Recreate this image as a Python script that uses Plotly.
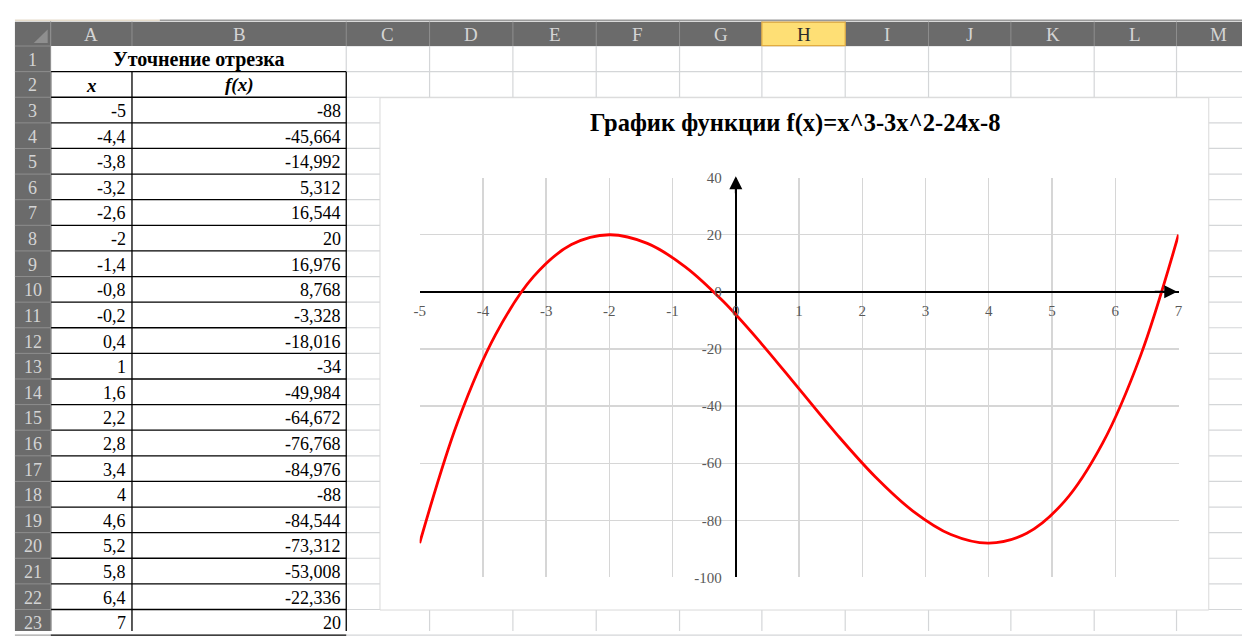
import plotly.graph_objects as go

W, H = 1246, 639

# ---------------- data ----------------
x_vals = [-5, -4.4, -3.8, -3.2, -2.6, -2, -1.4, -0.8, -0.2, 0.4, 1, 1.6,
          2.2, 2.8, 3.4, 4, 4.6, 5.2, 5.8, 6.4, 7]
fx_vals = [-88, -45.664, -14.992, 5.312, 16.544, 20, 16.976, 8.768, -3.328,
           -18.016, -34, -49.984, -64.672, -76.768, -84.976, -88, -84.544,
           -73.312, -53.008, -22.336, 20]
col_letters = ["A", "B", "C", "D", "E", "F", "G", "H", "I", "J", "K", "L", "M"]
row_numbers = list(range(1, 24))
x_ticks = list(range(-5, 8))
y_ticks = list(range(-100, 41, 20))
chart_title = "График функции f(x)=x^3-3x^2-24x-8"
table_title = "Уточнение отрезка"
head_x = "x"
head_fx = "f(x)"

# ---------------- layout geometry (pixels) ----------------
SERIF = "Liberation Serif, Times New Roman, serif"
col_edges = [45, 127, 343, 427, 511, 595, 679, 762, 846, 930, 1013, 1097, 1180, 1264]
ROW_TOP, ROW_H = 39, 26.27
HDR_TOP = 14
RH_LEFT = 9


def row_top(k):
    return ROW_TOP + (k - 1) * ROW_H


def X(p):
    return p / W


def Y(p):
    return 1 - p / H


shapes = []
ann = []


def line(x0, y0, x1, y1, color, width=1):
    shapes.append(dict(type="line", xref="paper", yref="paper", layer="below",
                       x0=X(x0), y0=Y(y0), x1=X(x1), y1=Y(y1),
                       line=dict(color=color, width=width)))


def rect(x0, y0, x1, y1, fill, lc=None, lw=0):
    shapes.append(dict(type="rect", xref="paper", yref="paper", layer="below",
                       x0=X(x0), y0=Y(y0), x1=X(x1), y1=Y(y1), fillcolor=fill,
                       line=dict(color=lc if lc else fill, width=lw)))


def text(x, y, s, size, color="#000000", xanchor="center", bold=False, italic=False):
    if bold:
        s = "<b>" + s + "</b>"
    if italic:
        s = "<i>" + s + "</i>"
    ann.append(dict(xref="paper", yref="paper", x=X(x), y=Y(y), text=s,
                    showarrow=False, xanchor=xanchor, yanchor="middle",
                    font=dict(family=SERIF, size=size, color=color)))


GRID = "#d4d6d8"
HDR = "#6b6b6b"
HDR_SEP = "#8e8e8e"
HDR_TXT = "#d4d4d4"

# top strip
line(RH_LEFT, 12.5, 155, 12.5, "#e6dccb", 1.5)
line(155, 12.5, W, 12.5, "#9a9a9a", 1.5)

# cell grid (light)
for k in range(1, 25):
    y = row_top(k)
    line(343, y, W, y, GRID, 1.2)
for xe in col_edges[3:]:
    line(xe, ROW_TOP, xe, H, GRID, 1.2)
line(343, ROW_TOP, 343, row_top(2), GRID, 1.2)

# table borders (black)
for k in range(2, 25):
    y = row_top(k)
    line(45, y, 343, y, "#000000", 1.3)
for xe in (45, 127, 343):
    line(xe, row_top(2), xe, H, "#000000", 1.3)

# header row
rect(RH_LEFT, HDR_TOP, W, ROW_TOP, HDR)
for xe in col_edges:
    line(xe, HDR_TOP, xe, ROW_TOP, HDR_SEP, 1)
rect(762, HDR_TOP + 0.5, 846, ROW_TOP - 0.5, "#fedf75", "#e2ac3f", 1.2)

# row header column
rect(RH_LEFT, ROW_TOP, 45, H, HDR)
for k in range(1, 25):
    y = row_top(k)
    line(RH_LEFT, y, 45, y, HDR_SEP, 1)
line(45, HDR_TOP, 45, H, HDR_SEP, 1)
# corner triangle
shapes.append(dict(type="path", xref="paper", yref="paper", layer="below",
                   path="M %f %f L %f %f L %f %f Z" % (X(42), Y(36), X(42), Y(22), X(28), Y(36)),
                   fillcolor="#8f8f8f", line=dict(width=0)))

# chart area
rect(377, 92, 1212.5, 617.5, "#ffffff", "#d9d9d9", 1)

# header texts
for i, c in enumerate(col_letters):
    xc = (col_edges[i] + col_edges[i + 1]) / 2
    if xc > W - 10:
        xc = (col_edges[i] + W) / 2 + 2
    text(xc, (HDR_TOP + ROW_TOP) / 2 + 1, c, 19,
         "#2b2b2b" if c == "H" else HDR_TXT)
for r in row_numbers:
    text((RH_LEFT + 45) / 2, row_top(r) + ROW_H / 2 + 1, str(r), 18, HDR_TXT)

# table content
text((45 + 343) / 2, row_top(1) + ROW_H / 2 + 1, table_title, 20, bold=True)
text((45 + 127) / 2, row_top(2) + ROW_H / 2 + 1, head_x, 19, bold=True, italic=True)
text((127 + 343) / 2, row_top(2) + ROW_H / 2 + 1, head_fx, 19, bold=True, italic=True)


def fmt(v):
    return ("%g" % v).replace(".", ",")


for i, (xv, fv) in enumerate(zip(x_vals, fx_vals)):
    yc = row_top(3 + i) + ROW_H / 2 + 1
    text(123, yc, fmt(xv), 18, xanchor="right")
    text(340, yc, fmt(fv), 18, xanchor="right")

# chart title
text(795, 118, chart_title, 24.5, bold=True)

# ---------------- chart ----------------
PX0, PX1 = 417, 1182
PY0, PY1 = 174, 584
xr = [-5, 7]
yr = [-100, 40]
xdom = [X(PX0), X(PX1)]
ydom = [Y(PY1), Y(PY0)]
xpos0 = xdom[0] + (0 - xr[0]) / (xr[1] - xr[0]) * (xdom[1] - xdom[0])
ypos0 = ydom[0] + (0 - yr[0]) / (yr[1] - yr[0]) * (ydom[1] - ydom[0])

fig = go.Figure()
fig.add_trace(go.Scatter(x=x_vals, y=fx_vals, mode="lines",
                         line=dict(color="#ff0000", width=2.8, shape="spline", smoothing=1),
                         hoverinfo="skip", showlegend=False))

tickfont = dict(family=SERIF, size=15, color="#595959")
fig.update_layout(
    width=W, height=H, margin=dict(l=0, r=0, t=0, b=0),
    paper_bgcolor="#ffffff", plot_bgcolor="rgba(0,0,0,0)",
    showlegend=False, shapes=shapes, annotations=ann,
    xaxis=dict(range=xr, domain=xdom, anchor="free", position=ypos0,
               tickmode="array", tickvals=x_ticks, ticktext=[str(t) for t in x_ticks],
               showgrid=True, gridcolor="#d6d6d6", gridwidth=1.3,
               zeroline=True, zerolinecolor="#000000", zerolinewidth=2.5,
               showline=False, ticks="outside", ticklen=5, tickcolor="rgba(0,0,0,0)",
               tickfont=tickfont, fixedrange=True),
    yaxis=dict(range=yr, domain=ydom, anchor="free", position=xpos0,
               tickmode="array", tickvals=y_ticks, ticktext=[str(t) for t in y_ticks],
               showgrid=True, gridcolor="#d6d6d6", gridwidth=1.3,
               zeroline=True, zerolinecolor="#000000", zerolinewidth=2.5,
               showline=False, ticks="outside", ticklen=11, tickcolor="rgba(0,0,0,0)",
               tickfont=tickfont, fixedrange=True),
)

# axis arrows
fig.add_annotation(x=0, y=yr[1] + 0.5, ax=0, ay=yr[1] - 6, xref="x", yref="y",
                   axref="x", ayref="y", showarrow=True, arrowhead=2, arrowsize=1.3,
                   arrowwidth=2, arrowcolor="#000000", text="")
fig.add_annotation(x=xr[1] - 0.02, y=0, ax=xr[1] - 0.4, ay=0, xref="x", yref="y",
                   axref="x", ayref="y", showarrow=True, arrowhead=2, arrowsize=1.3,
                   arrowwidth=2, arrowcolor="#000000", text="")

fig.write_html("out.html", config={"displayModeBar": False, "staticPlot": True},
               post_script="document.body.style.margin='0';document.body.style.overflow='hidden';")
